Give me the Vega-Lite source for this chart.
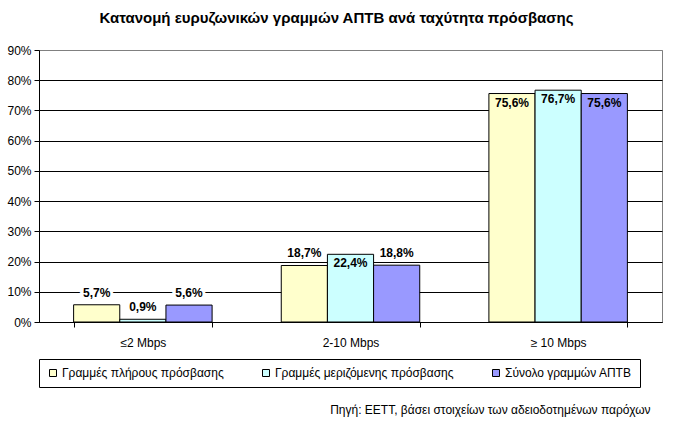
{
  "$schema": "https://vega.github.io/schema/vega-lite/v6.json",
  "padding": {"left": 6, "right": 8, "top": 10, "bottom": 2},
  "config": {
    "locale": {"number": {"decimal": ",", "thousands": ".", "grouping": [3], "currency": ["", " €"]}},
    "font": "Liberation Sans",
    "view": {"stroke": "#808080", "strokeWidth": 1},
    "background": "white"
  },
  "datasets": {
    "d": [
      {"cat": "≤2 Mbps", "series": "Γραμμές πλήρους πρόσβασης", "v": 0.057},
      {"cat": "≤2 Mbps", "series": "Γραμμές μεριζόμενης πρόσβασης", "v": 0.009},
      {"cat": "≤2 Mbps", "series": "Σύνολο γραμμών ΑΠΤΒ", "v": 0.056},
      {"cat": "2-10 Mbps", "series": "Γραμμές πλήρους πρόσβασης", "v": 0.187},
      {"cat": "2-10 Mbps", "series": "Γραμμές μεριζόμενης πρόσβασης", "v": 0.224},
      {"cat": "2-10 Mbps", "series": "Σύνολο γραμμών ΑΠΤΒ", "v": 0.188},
      {"cat": "≥ 10 Mbps", "series": "Γραμμές πλήρους πρόσβασης", "v": 0.756},
      {"cat": "≥ 10 Mbps", "series": "Γραμμές μεριζόμενης πρόσβασης", "v": 0.767},
      {"cat": "≥ 10 Mbps", "series": "Σύνολο γραμμών ΑΠΤΒ", "v": 0.756}
    ]
  },
  "title": {
    "text": "Πηγή: ΕΕΤΤ, βάσει στοιχείων των αδειοδοτημένων παρόχων",
    "orient": "bottom", "anchor": "end", "fontSize": 12, "fontWeight": "normal",
    "font": "Liberation Sans", "color": "black", "offset": 17, "dx": -12
  },
  "vconcat": [
    {
      "title": {
        "text": "Κατανομή ευρυζωνικών γραμμών ΑΠΤΒ ανά ταχύτητα πρόσβασης",
        "fontSize": 15, "fontWeight": "bold", "font": "Liberation Sans", "color": "black",
        "anchor": "middle", "offset": 18, "dx": -14
      },
      "width": 623,
      "height": 272,
      "data": {"name": "d"},
      "encoding": {
        "x": {
          "field": "cat", "type": "nominal",
          "sort": ["≤2 Mbps", "2-10 Mbps", "≥ 10 Mbps"],
          "scale": {"paddingInner": 0.333, "paddingOuter": 0.1667},
          "axis": {
            "title": null, "labelAngle": 0, "tickBand": "extent", "domainColor": "black",
            "tickColor": "black", "tickSize": 5, "labelFontSize": 12, "labelColor": "black",
            "labelPadding": 10, "labelFont": "Liberation Sans"
          }
        },
        "xOffset": {
          "field": "series", "type": "nominal",
          "sort": ["Γραμμές πλήρους πρόσβασης", "Γραμμές μεριζόμενης πρόσβασης", "Σύνολο γραμμών ΑΠΤΒ"],
          "scale": {"paddingInner": 0, "paddingOuter": 0}
        },
        "y": {
          "field": "v", "type": "quantitative",
          "scale": {"domain": [0, 0.9], "nice": false},
          "axis": {
            "title": null, "format": ".0%", "values": [0, 0.1, 0.2, 0.3, 0.4, 0.5, 0.6, 0.7, 0.8, 0.9],
            "grid": true,
            "gridColor": {"condition": {"test": "datum.value >= 0.89", "value": "#808080"}, "value": "black"},
            "gridWidth": 1, "domainColor": "black", "tickColor": "black", "tickSize": 5,
            "labelFontSize": 12, "labelColor": "black", "labelPadding": 3, "labelFont": "Liberation Sans"
          }
        }
      },
      "layer": [
        {
          "mark": {"type": "bar", "stroke": "black", "strokeWidth": 1},
          "encoding": {
            "fill": {
              "field": "series", "type": "nominal",
              "sort": ["Γραμμές πλήρους πρόσβασης", "Γραμμές μεριζόμενης πρόσβασης", "Σύνολο γραμμών ΑΠΤΒ"],
              "scale": {"range": ["#FFFFCC", "#CCFFFF", "#9999FF"]},
              "legend": {
                "title": null, "orient": "bottom", "direction": "horizontal",
                "strokeColor": "black", "padding": 8, "symbolType": "square", "symbolSize": 49,
                "symbolStrokeColor": "black", "symbolStrokeWidth": 1, "labelFontSize": 12,
                "labelColor": "black", "labelFont": "Liberation Sans", "columnPadding": 36,
                "labelOffset": 3, "offset": 10, "labelLimit": 0
              }
            }
          }
        },
        {
          "transform": [{"filter": "datum.v <= 0.2"}],
          "mark": {"type": "text", "baseline": "bottom", "dy": -5, "fontWeight": "bold", "fontSize": 12,
                   "stroke": "white", "strokeWidth": 6, "fill": "white"},
          "encoding": {"text": {"field": "v", "type": "quantitative", "format": ".1%"}}
        },
        {
          "transform": [{"filter": "datum.v <= 0.2"}],
          "mark": {"type": "text", "baseline": "bottom", "dy": -5, "fontWeight": "bold", "fontSize": 12, "color": "black"},
          "encoding": {"text": {"field": "v", "type": "quantitative", "format": ".1%"}}
        },
        {
          "transform": [{"filter": "datum.v > 0.2"}],
          "mark": {"type": "text", "baseline": "top", "dy": 4, "fontWeight": "bold", "fontSize": 12, "color": "black"},
          "encoding": {"text": {"field": "v", "type": "quantitative", "format": ".1%"}}
        }
      ]
    }
  ]
}
